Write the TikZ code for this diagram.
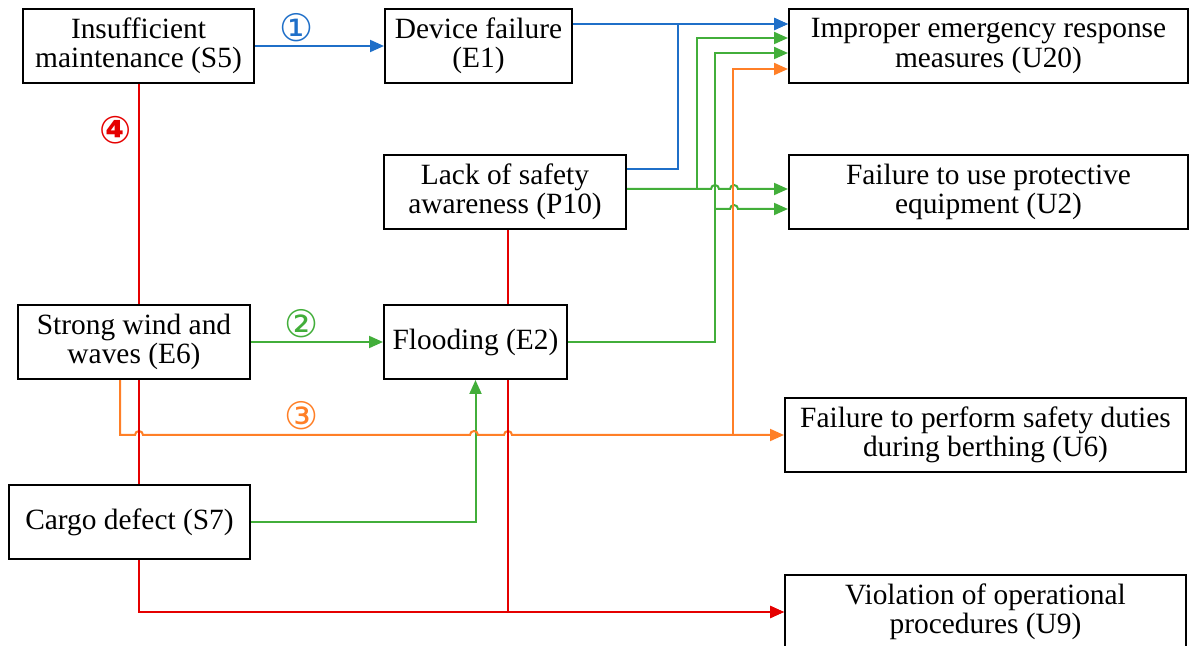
\documentclass[tikz,border=0pt]{standalone}
\usepackage{fontspec}
\setmainfont{Liberation Serif}
\newfontfamily\circfont{DejaVu Sans}
\usepackage{tikz}
\usetikzlibrary{arrows.meta, backgrounds}
\definecolor{pathblue}{HTML}{1F6FC8}
\definecolor{pathgreen}{HTML}{42AE3A}
\definecolor{pathorange}{HTML}{FF7F27}
\definecolor{pathred}{HTML}{E50000}

\begin{document}
\begin{tikzpicture}[x=0.5pt, y=-0.5pt,
    evbox/.style={draw, line width=1pt, fill=white, align=center, inner sep=0pt,
      minimum height=37pt, font=\fontsize{14.7}{14.6}\selectfont},
    link/.style={line width=1pt, -{Triangle[length=7pt, width=6pt]}},
    marker/.style={inner sep=0pt, font=\circfont\fontsize{19}{19}\selectfont}]
  \useasboundingbox (0,0) rectangle (1190,646);

  \node[evbox, minimum width=115.5pt] (S5) at (138.5,46) {Insufficient\\maintenance (S5)};
  \node[evbox, minimum width=93.5pt] (E1) at (478.5,46) {Device failure\\(E1)};
  \node[evbox, minimum width=199.5pt] (U20) at (988.5,46) {Improper emergency response\\measures (U20)};
  \node[evbox, minimum width=121pt] (P10) at (505,192) {Lack of safety\\awareness (P10)};
  \node[evbox, minimum width=199.5pt] (U2) at (988.5,192) {Failure to use protective\\equipment (U2)};
  \node[evbox, minimum width=116pt] (E6) at (134,342) {Strong wind and\\waves (E6)};
  \node[evbox, minimum width=91.5pt] (E2) at (475.5,342) {Flooding (E2)};
  \node[evbox, minimum width=200.5pt] (U6) at (985.5,435) {Failure to perform safety duties\\during berthing (U6)};
  \node[evbox, minimum width=120.5pt] (S7) at (129.5,522) {Cargo defect (S7)};
  \node[evbox, minimum width=200.5pt] (U9) at (985.5,612) {Violation of operational\\procedures (U9)};

  \node[marker, pathblue] (m1) at (297,28) {①};
  \node[marker, pathgreen] (m2) at (302,324) {②};
  \node[marker, pathorange] (m3) at (302,416) {③};
  \node[marker, pathred, font=\circfont\bfseries\fontsize{19}{19}\selectfont] (m4) at (116,130) {④};

  \begin{pgfonlayer}{background}
    % path 1
    \draw[link, pathblue] (S5.east) -- (E1.west);
    \draw[link, pathblue] ([yshift=11pt]E1.east) -- ([yshift=11pt]U20.west);
    \draw[link, pathblue] ([yshift=11.5pt]P10.east) -- ++(51,0) |- ([yshift=11pt]U20.west);
    % path 2
    \draw[link, pathgreen] (E6.east) -- (E2.west);
    \draw[link, pathgreen] (S7.east) -| (E2.south);
    \draw[link, pathgreen] (E2.east) -- ++(147,0) coordinate (gbranch) |- ([yshift=-3.5pt]U20.west);
    \draw[link, pathgreen] (gbranch) ++(0,-133) -- ++(15,0)
      arc[start angle=180, end angle=360, radius=4] -- ([yshift=-8.5pt]U2.west);
    \draw[link, pathgreen] ([yshift=1.5pt]P10.east) -- ++(70,0) coordinate (pbranch) -- ++(14,0)
      arc[start angle=180, end angle=360, radius=4] -- ++(11,0)
      arc[start angle=180, end angle=360, radius=4] -- ([yshift=1.5pt]U2.west);
    \draw[link, pathgreen] (pbranch) |- ([yshift=4pt]U20.west);
    % path 3
    \draw[link, pathorange] ([xshift=-7pt]E6.south) -- ++(0,55) -- ++(15,0)
      arc[start angle=180, end angle=360, radius=4] -- ++(327,0)
      arc[start angle=180, end angle=360, radius=4] -- ++(26,0)
      arc[start angle=180, end angle=360, radius=4] -- ++(221,0) coordinate (obranch) -- (U6.west);
    \draw[link, pathorange] (obranch) |- ([yshift=-11.5pt]U20.west);
    % path 4
    \draw[link, pathred] (S5.south) |- (U9.west);
    \draw[link, pathred] ([xshift=1.5pt]P10.south) |- (U9.west);
  \end{pgfonlayer}
\end{tikzpicture}
\end{document}
